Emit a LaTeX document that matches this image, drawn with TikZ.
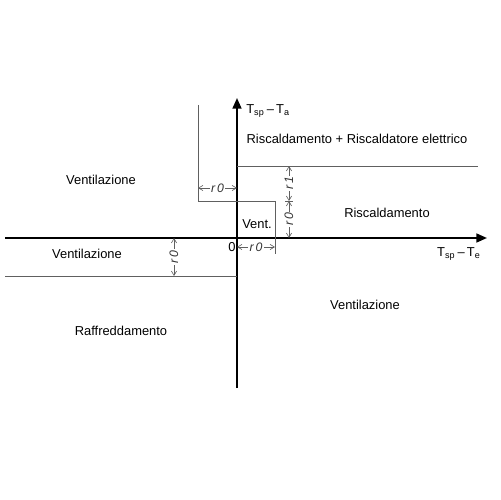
\documentclass[tikz,border=0pt]{standalone}
\usepackage{fontspec}
\setmainfont{Liberation Sans}
\usetikzlibrary{arrows.meta}

\begin{document}
\begin{tikzpicture}[
  x=0.02cm, y=-0.02cm,
  font=\fontsize{7.35}{9}\selectfont,
  axis/.style ={draw,line width=1.1pt,-{Triangle[length=6pt,width=5pt]}},
  limit/.style={draw=gray!75!black,line width=0.5pt},
  dim/.style  ={draw=gray!75!black,line width=0.35pt,
                {Straight Barb[length=2.5pt,width=3pt]}-{Straight Barb[length=2.5pt,width=3pt]}},
  dimlab/.style={fill=white,inner sep=0.8pt,text=gray!40!black,
                 font=\fontsize{7}{8}\selectfont\itshape},
  zone/.style ={inner sep=0pt},
]
\useasboundingbox (0,0) rectangle (500,500);

%% =============================================
%% Axes
%% =============================================
\coordinate (orig) at (237,238);
\coordinate (xfrom) at (5,238);
\coordinate (xto) at (487,238);
\coordinate (yfrom) at (237,388);
\coordinate (yto) at (237,98);

\draw[axis] (xfrom) -- (xto);
\draw[axis] (yfrom) -- (yto);

\node[anchor=west,inner sep=0pt] (ylab) at (246,111) {T\textsubscript{sp}\,–\,T\textsubscript{a}};
\node[inner sep=0pt] (xlab) at (459,254) {T\textsubscript{sp}\,–\,T\textsubscript{e}};
\node[inner sep=0pt] (zero) at (232,247) {0};

%% =============================================
%% Switching limits
%% =============================================
\coordinate (ltop) at (198,105);
\coordinate (lcorner) at (198,201);
\coordinate (rcorner) at (275,201);
\coordinate (rfoot) at (275,238);
\coordinate (hstart) at (237,166);
\coordinate (hend) at (478,166);
\coordinate (lostart) at (5,276);
\coordinate (loend) at (237,276);

\draw[limit] (ltop) -- (lcorner) -- (rcorner) -- (rfoot);
\draw[limit] (hstart) -- (hend);
\draw[limit] (lostart) -- (loend);

%% =============================================
%% Hysteresis widths
%% =============================================
\draw[dim] (198,188) -- node[dimlab] {r\,0} (237,188);
\draw[dim] (237,247) -- node[dimlab] {r\,0} (275,247);
\draw[limit,line width=0.35pt] (275,238) -- (275,254);
\draw[dim] (289,166) -- node[dimlab,rotate=90] {r\,1} (289,201);
\draw[dim] (289,201) -- node[dimlab,rotate=90] {r\,0} (289,238);
\draw[limit,line width=0.35pt] (285,201) -- (293,201);
\draw[dim] (174,238) -- node[dimlab,rotate=90] {r\,0} (174,276);

%% =============================================
%% Operating zones
%% =============================================
\node[zone] (heatel) at (357,139) {Riscaldamento + Riscaldatore elettrico};
\node[zone] (ventul) at (101,180) {Ventilazione};
\node[zone] (heat) at (387,213) {Riscaldamento};
\node[zone] (vent) at (257,224) {Vent.};
\node[zone] (ventl) at (87,254) {Ventilazione};
\node[zone] (ventr) at (365,305) {Ventilazione};
\node[zone] (cool) at (121,331) {Raffreddamento};

\end{tikzpicture}
\end{document}
